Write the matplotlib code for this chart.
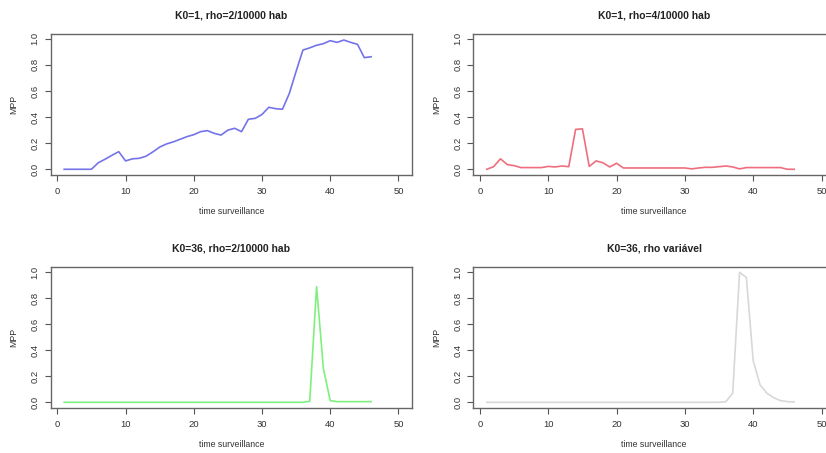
import matplotlib
matplotlib.use("Agg")
import matplotlib.pyplot as plt

plt.rcParams["font.family"] = ["Liberation Sans", "DejaVu Sans"]

time = list(range(1, 47))

# K0=1, rho=2/10000 hab
mpp_k1_r2 = [0.0, 0.0, 0.0, 0.0, 0.0, 0.05, 0.077, 0.107, 0.135, 0.064,
             0.08, 0.084, 0.10, 0.133, 0.17, 0.194, 0.21, 0.23, 0.25, 0.265,
             0.288, 0.296, 0.275, 0.262, 0.30, 0.314, 0.288, 0.383, 0.39, 0.42,
             0.475, 0.464, 0.46, 0.58, 0.75, 0.913, 0.93, 0.95, 0.962, 0.985,
             0.972, 0.99, 0.972, 0.957, 0.855, 0.862]

# K0=1, rho=4/10000 hab
mpp_k1_r4 = [0.0, 0.02, 0.08, 0.036, 0.028, 0.013, 0.013, 0.013, 0.013, 0.022,
             0.018, 0.025, 0.02, 0.305, 0.31, 0.022, 0.064, 0.05, 0.018, 0.046,
             0.01, 0.01, 0.01, 0.01, 0.01, 0.01, 0.01, 0.01, 0.01, 0.01,
             0.003, 0.01, 0.015, 0.015, 0.02, 0.025, 0.018, 0.003, 0.013, 0.013,
             0.013, 0.013, 0.013, 0.013, 0.0, 0.0]

# K0=36, rho=2/10000 hab
mpp_k36_r2 = [0.0] * 36 + [0.008, 0.89, 0.26, 0.013, 0.005, 0.005, 0.005, 0.005, 0.005, 0.005]

# K0=36, rho variavel
mpp_k36_var = [0.0] * 35 + [0.005, 0.07, 1.0, 0.96, 0.32, 0.135, 0.07, 0.035, 0.013, 0.005, 0.003]

titles = ["K0=1, rho=2/10000 hab", "K0=1, rho=4/10000 hab",
          "K0=36, rho=2/10000 hab", "K0=36, rho vari\u00e1vel"]
series = [mpp_k1_r2, mpp_k1_r4, mpp_k36_r2, mpp_k36_var]
colors = ["#7474ea", "#ee6e7e", "#7ef07e", "#d8d8d8"]

W, H = 826, 453
fig = plt.figure(figsize=(W / 100, H / 100), dpi=100)

# axes boxes in pixels: left, top, width, height
boxes = [(50.8, 33.5, 361, 141), (473.4, 33.5, 361.5, 141),
         (50.8, 267.1, 361, 140.4), (473.4, 267.1, 361.5, 140.4)]

for (l, t, w, h), title, y, c in zip(boxes, titles, series, colors):
    ax = fig.add_axes([l / W, 1 - (t + h) / H, w / W, h / H])
    ax.plot(time, y, color=c, lw=1.2)
    ax.set_xlim(-0.96, 51.96)
    ax.set_ylim(-0.04, 1.04)
    ax.set_xticks([0, 10, 20, 30, 40, 50])
    ax.set_yticks([0.0, 0.2, 0.4, 0.6, 0.8, 1.0])
    ax.set_yticklabels(["0.0", "0.2", "0.4", "0.6", "0.8", "1.0"],
                       rotation=90, va="center")
    ax.tick_params(direction="out", length=4, width=0.8, colors="#555555",
                   labelsize=6.8, labelcolor="#333333")
    ax.tick_params(axis="x", pad=5)
    ax.tick_params(axis="y", pad=4)
    for s in ax.spines.values():
        s.set_color("#666666")
        s.set_linewidth(1.0)
    ax.set_title(title, fontsize=7.5, fontweight="bold", pad=11, color="#222222")
    ax.set_xlabel("time surveillance", fontsize=6.3, labelpad=8, color="#333333")
    ax.set_ylabel("MPP", fontsize=6.3, labelpad=9, color="#333333")

fig.savefig("out.png", dpi=100)
